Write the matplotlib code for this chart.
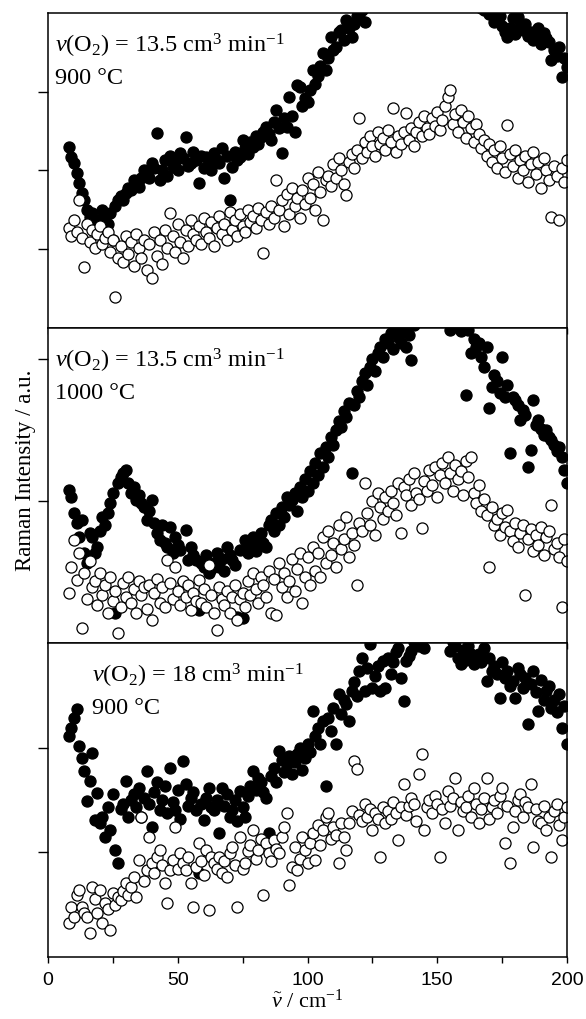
import numpy as np
import matplotlib
matplotlib.use("Agg")
import matplotlib.pyplot as plt
from matplotlib.ticker import MultipleLocator, NullFormatter

plt.rcParams['font.family'] = ['Liberation Serif', 'DejaVu Serif']
plt.rcParams['mathtext.fontset'] = 'custom'
plt.rcParams['mathtext.rm'] = 'Liberation Serif'
plt.rcParams['mathtext.it'] = 'Liberation Serif:italic'

# wavenumber grid (cm^-1), one point per cm^-1
wavenumber = np.arange(8, 201)

# panel 1: v(O2) = 13.5 cm3/min, 900 C
top_open = [
    100, 92, 108, 96, 128, 90, 61, 104, 86, 98,
    80, 94, 102, 84, 90, 96, 76, 88, 31, 70,
    82, 66, 92, 74, 86, 62, 94, 80, 70, 88,
    58, 84, 50, 96, 72, 88, 64, 98, 80, 115,
    92, 76, 104, 86, 70, 98, 82, 108, 94, 88,
    102, 84, 110, 96, 90, 106, 82, 100, 112, 94,
    104, 88, 116, 98, 108, 92, 114, 102, 96, 118,
    106, 112, 100, 120, 108, 75, 116, 104, 122, 110,
    148, 118, 128, 102, 134, 114, 140, 122, 130, 110,
    138, 124, 150, 130, 144, 118, 156, 136, 108, 148,
    152, 142, 164, 150, 170, 158, 144, 133, 166, 174,
    160, 178, 210, 170, 186, 176, 192, 182, 172, 196,
    184, 190, 178, 198, 186, 220, 176, 192, 184, 196,
    215, 188, 200, 182, 196, 206, 192, 212, 200, 194,
    210, 202, 216, 198, 208, 222, 231, 238, 204, 214,
    196, 218, 206, 190, 212, 200, 186, 204, 194, 180,
    188, 172, 184, 166, 178, 160, 182, 170, 156, 203,
    174, 162, 178, 150, 168, 158, 172, 146, 164, 176,
    154, 166, 140, 170, 158, 148, 111, 162, 152, 108,
    160, 146, 168]
top_filled = [
    181, 171, 165, 155, 145, 135, 128, 118, 111, 115,
    101, 95, 108, 118, 112, 104, 115, 88, 122, 128,
    132, 128, 135, 140, 138, 148, 144, 141, 150, 158,
    155, 150, 165, 160, 195, 148, 158, 168, 152, 172,
    161, 166, 158, 175, 170, 191, 162, 165, 176, 168,
    145, 172, 160, 171, 164, 158, 175, 168, 165, 180,
    150, 172, 128, 161, 176, 168, 171, 188, 180, 174,
    186, 181, 192, 184, 191, 196, 201, 194, 188, 206,
    218, 200, 175, 210, 201, 231, 212, 196, 243, 241,
    222, 230, 226, 238, 258, 244, 252, 262, 275, 258,
    270, 291, 278, 281, 296, 298, 288, 308, 300, 291,
    304, 312, 311, 318, 306, 322, 330, 326, 338, 334,
    345, 340, 352, 348, 360, 355, 362, 358, 366, 360,
    370, 364, 372, 368, 375, 370, 378, 372, 374, 368,
    372, 366, 370, 362, 366, 358, 360, 352, 356, 348,
    350, 342, 344, 336, 338, 330, 332, 326, 324, 320,
    318, 322, 314, 316, 306, 308, 312, 302, 296, 291,
    300, 310, 294, 311, 302, 298, 304, 292, 296, 288,
    291, 300, 284, 295, 290, 286, 268, 278, 272, 281,
    251, 270, 261]

# panel 2: v(O2) = 13.5 cm3/min, 1000 C
mid_open = [
    50, 76, 103, 63, 90, 15, 70, 44, 82, 56,
    62, 38, 70, 48, 58, 30, 66, 42, 52, 10,
    36, 60, 46, 66, 40, 54, 30, 62, 48, 56,
    34, 58, 23, 50, 64, 40, 56, 36, 83, 60,
    44, 76, 52, 38, 62, 46, 58, 33, 50, 42,
    63, 40, 54, 36, 78, 48, 30, 13, 56, 44,
    38, 52, 30, 46, 58, 23, 44, 50, 36, 62,
    48, 70, 54, 40, 66, 58, 46, 72, 30, 64,
    28, 80, 56, 70, 46, 62, 84, 52, 74, 90,
    40, 66, 86, 58, 96, 72, 90, 66, 106, 80,
    112, 88, 100, 76, 118, 94, 104, 126, 86, 110,
    98, 58, 120, 112, 160, 130, 118, 142, 108, 150,
    136, 124, 146, 132, 152, 140, 128, 160, 110, 156,
    148, 164, 138, 170, 150, 144, 115, 162, 152, 173,
    158, 176, 146, 168, 180, 160, 186, 170, 152, 178,
    164, 172, 148, 182, 166, 186, 150, 140, 158, 132,
    144, 128, 76, 136, 118, 124, 108, 130, 116, 133,
    112, 102, 120, 96, 110, 118, 48, 104, 114, 92,
    108, 98, 116, 88, 106, 112, 138, 94, 100, 86,
    36, 104, 82]
mid_filled = [
    153, 146, 130, 120, 106, 123, 90, 80, 110, 106,
    90, 96, 112, 126, 118, 130, 140, 150, 30, 160,
    166, 170, 173, 160, 150, 156, 143, 148, 140, 136,
    123, 132, 143, 120, 110, 103, 118, 100, 96, 116,
    90, 106, 98, 93, 61, 113, 83, 96, 88, 83,
    33, 80, 76, 88, 70, 74, 80, 90, 76, 84,
    72, 96, 88, 83, 78, 26, 93, 25, 103, 90,
    98, 106, 92, 103, 110, 100, 96, 118, 123, 112,
    130, 118, 136, 126, 146, 138, 143, 150, 132, 156,
    146, 164, 152, 172, 160, 180, 168, 190, 176, 196,
    186, 206, 198, 213, 222, 216, 232, 226, 240, 170,
    238, 252, 246, 262, 270, 258, 276, 284, 272, 290,
    296, 286, 304, 300, 310, 294, 313, 306, 300, 312,
    296, 308, 283, 318, 322, 330, 336, 340, 344, 348,
    350, 346, 342, 338, 334, 328, 324, 313, 318, 320,
    316, 312, 320, 248, 313, 290, 304, 296, 300, 286,
    276, 296, 235, 256, 268, 262, 250, 286, 246, 258,
    190, 246, 243, 238, 223, 233, 228, 176, 193, 243,
    218, 223, 214, 208, 213, 206, 203, 198, 192, 196,
    186, 173, 160]

# panel 3: v(O2) = 18 cm3/min, 900 C
bot_open = [
    34, 50, 40, 62, 67, 50, 44, 40, 24, 70,
    58, 44, 67, 34, 54, 48, 27, 64, 52, 60,
    57, 66, 74, 62, 70, 80, 60, 97, 140, 76,
    87, 120, 94, 84, 100, 107, 92, 74, 54, 87,
    97, 130, 88, 104, 94, 87, 100, 74, 50, 90,
    114, 96, 82, 107, 47, 100, 94, 88, 100, 84,
    96, 80, 104, 110, 92, 50, 120, 88, 94, 106,
    112, 127, 98, 107, 118, 62, 114, 104, 96, 117,
    108, 104, 120, 130, 144, 72, 90, 110, 87, 98,
    120, 107, 94, 114, 124, 97, 132, 112, 127, 140,
    144, 118, 130, 122, 94, 134, 120, 107, 134, 146,
    197, 189, 142, 136, 154, 140, 148, 127, 144, 138,
    100, 150, 134, 146, 138, 156, 144, 117, 150, 174,
    142, 152, 160, 154, 136, 184, 204, 127, 150, 158,
    144, 162, 154, 100, 148, 134, 167, 152, 160, 180,
    127, 156, 146, 150, 162, 140, 170, 154, 134, 148,
    160, 180, 138, 150, 158, 144, 162, 170, 114, 152,
    94, 130, 146, 158, 164, 140, 156, 150, 174, 110,
    148, 136, 134, 152, 127, 140, 100, 146, 154, 132,
    117, 140, 150]
bot_filled = [
    222, 230, 240, 249, 212, 200, 187, 157, 177, 205,
    137, 165, 134, 140, 120, 150, 127, 164, 107, 94,
    148, 154, 177, 140, 158, 164, 150, 170, 140, 160,
    187, 154, 130, 166, 176, 147, 158, 172, 144, 190,
    156, 147, 168, 138, 197, 174, 152, 160, 166, 147,
    84, 154, 137, 160, 170, 150, 147, 158, 124, 170,
    152, 164, 140, 147, 158, 136, 167, 150, 140, 162,
    172, 187, 168, 180, 176, 166, 160, 124, 182, 190,
    176, 207, 198, 186, 194, 202, 184, 196, 204, 210,
    188, 200, 214, 206, 247, 222, 230, 214, 237, 172,
    240, 227, 250, 214, 264, 244, 258, 254, 237, 267,
    276, 262, 287, 300, 267, 290, 314, 270, 282, 292,
    267, 297, 270, 300, 284, 296, 306, 310, 280, 257,
    297, 302, 307, 316, 322, 312, 318, 310, 324, 330,
    336, 332, 338, 330, 334, 326, 322, 307, 316, 312,
    300, 294, 308, 298, 312, 304, 294, 302, 304, 296,
    310, 277, 300, 287, 292, 284, 260, 296, 280, 287,
    272, 277, 260, 290, 284, 270, 280, 234, 274, 287,
    266, 247, 278, 258, 267, 272, 250, 258, 246, 264,
    230, 252, 214]

panel_labels = [
    (r'$v$(O$_2$) = 13.5 cm$^3$ min$^{-1}$', '900 °C'),
    (r'$v$(O$_2$) = 13.5 cm$^3$ min$^{-1}$', '1000 °C'),
    (r'$v$(O$_2$) = 18 cm$^3$ min$^{-1}$', '900 °C'),
]
label_x = [0.013, 0.013, 0.085]
y_ticks = [[79, 158, 236], [142, 284], [105, 210]]

fig = plt.figure(figsize=(5.86, 10.19), dpi=100)
left, width = 0.0819, 0.8857
bottoms = [0.6781, 0.3690, 0.0608]
heights = [0.3091, 0.3091, 0.3082]

data = [(top_filled, top_open), (mid_filled, mid_open), (bot_filled, bot_open)]

for i, (filled, opened) in enumerate(data):
    ax = fig.add_axes([left, bottoms[i], width, heights[i]])
    ax.plot(wavenumber, filled, 'o', ms=8, mfc='black', mec='black', mew=0.9)
    ax.plot(wavenumber, opened, 'o', ms=8, mfc='white', mec='black', mew=0.9)
    ax.set_xlim(0, 200)
    ax.set_ylim(0, 315)
    ax.set_yticks(y_ticks[i])
    ax.yaxis.set_major_formatter(NullFormatter())
    ax.tick_params(axis='y', direction='out', length=7, width=1)
    ax.xaxis.set_major_locator(MultipleLocator(50))
    ax.tick_params(axis='x', direction='out', length=4, width=1)
    for s in ax.spines.values():
        s.set_linewidth(1.1)
    line1, line2 = panel_labels[i]
    ax.text(label_x[i], 0.94, line1, transform=ax.transAxes, fontsize=17.5, va='top')
    ax.text(label_x[i], 0.825, line2, transform=ax.transAxes, fontsize=17.5, va='top')
    if i < 2:
        ax.xaxis.set_major_formatter(NullFormatter())
    else:
        ax.xaxis.set_minor_locator(MultipleLocator(25))
        ax.tick_params(axis='x', which='minor', direction='out', length=4, width=1)
        ax.tick_params(axis='x', which='major', pad=7)
        for t in ax.get_xticklabels():
            t.set_family(['Liberation Sans', 'DejaVu Sans'])
            t.set_fontsize(14)
        ax.set_xlabel(r'$\tilde{\nu}$ / cm$^{-1}$', fontsize=16, labelpad=0)

fig.text(0.043, 0.538, 'Raman Intensity / a.u.', rotation=90, fontsize=16.5,
         ha='center', va='center')

fig.savefig('out.png', dpi=100)
